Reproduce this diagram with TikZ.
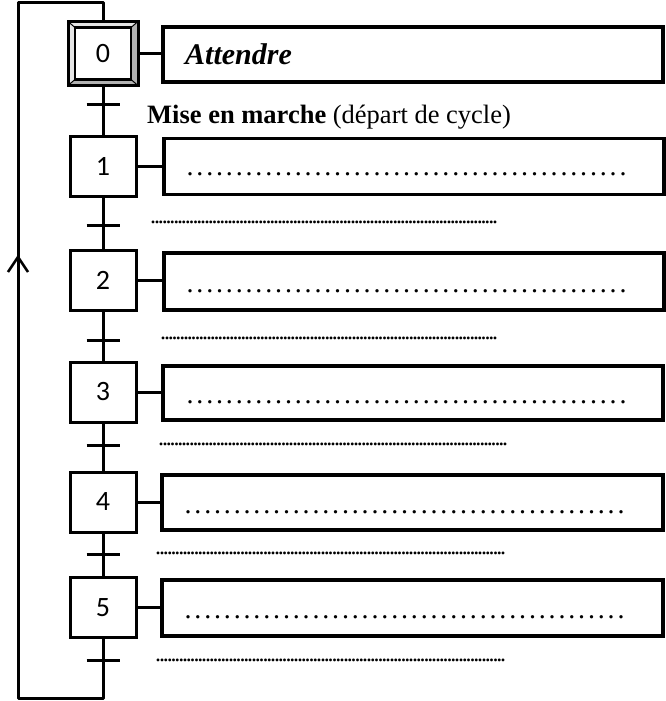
\documentclass[tikz,border=0pt]{standalone}
\usepackage{fontspec}
\setmainfont{Liberation Serif}
\newfontfamily\calib{Carlito}
\newcommand\dotline[2]{\hbox to #1{\xleaders\hbox to #2{\hss.\hss}\hfill}}
\begin{document}
\begin{tikzpicture}[x=1pt,y=-1pt,
  ln/.style={line width=3pt},
  stepbox/.style={draw,line width=3pt,minimum width=66pt,minimum height=60pt,inner sep=0pt,font=\calib\fontsize{28}{28}\selectfont},
  actbox/.style={draw,line width=3.5pt,inner sep=0pt,minimum width=500pt},
  trans/.style={line width=3pt},
  dense/.style={anchor=base west,inner sep=0pt,font=\fontsize{24}{24}\selectfont},
  sparse/.style={anchor=base west,inner sep=0pt,font=\fontsize{28}{28}\selectfont},
  ]
\useasboundingbox (0,0) rectangle (665,701);

% initial step 0 (double beveled frame)
\node[stepbox,draw=none,minimum height=61pt,minimum width=67pt] (s0) at (103,53.5) {};
\fill[gray!20] (s0.north west) -- (s0.north east) -- ([shift={(-7,6)}]s0.north east) -- ([shift={(7,6)}]s0.north west) -- cycle;
\fill[gray!20] (s0.north west) -- (s0.south west) -- ([shift={(7,-6)}]s0.south west) -- ([shift={(7,6)}]s0.north west) -- cycle;
\fill[gray!60] (s0.south west) -- (s0.south east) -- ([shift={(-7,-6)}]s0.south east) -- ([shift={(7,-6)}]s0.south west) -- cycle;
\fill[gray!60] (s0.north east) -- (s0.south east) -- ([shift={(-7,-6)}]s0.south east) -- ([shift={(-7,6)}]s0.north east) -- cycle;
\draw[line width=1pt] (s0.north west) -- ([shift={(7,6)}]s0.north west)
  (s0.north east) -- ([shift={(-7,6)}]s0.north east)
  (s0.south west) -- ([shift={(7,-6)}]s0.south west)
  (s0.south east) -- ([shift={(-7,-6)}]s0.south east);
\draw[line width=3pt] (s0.north west) rectangle (s0.south east);
\draw[line width=2.5pt] ([shift={(7,6)}]s0.north west) rectangle ([shift={(-7,-6)}]s0.south east);
\node[font=\calib\fontsize{28}{28}\selectfont] at (s0) {0};

% steps
\node[stepbox] (s1) at (103,166.5) {1};
\node[stepbox] (s2) at (103,280) {2};
\node[stepbox] (s3) at (103,392) {3};
\node[stepbox] (s4) at (103,502) {4};
\node[stepbox] (s5) at (103,607.5) {5};

% action boxes
\node[actbox,minimum height=55pt] (a0) at (413,54.5) {};
\node[actbox,minimum height=56pt] (a1) at (414,166.5) {};
\node[actbox,minimum height=57pt] (a2) at (414,281.5) {};
\node[actbox,minimum height=54pt] (a3) at (413,393) {};
\node[actbox,minimum height=55pt,minimum width=501pt] (a4) at (412.5,502.5) {};
\node[actbox,minimum height=56pt,minimum width=501pt] (a5) at (412.5,608) {};

% action texts
\node[anchor=base west,inner sep=0pt,font=\fontsize{30}{30}\selectfont\bfseries\itshape] (txt0) at (185,65) {Attendre};
\node[sparse] (d1) at (185,175.8) {\dotline{442.8pt}{9.84pt}};
\node[sparse] (d2) at (185,292.8) {\dotline{442.8pt}{9.84pt}};
\node[sparse] (d3) at (185,403.8) {\dotline{442.8pt}{9.84pt}};
\node[sparse] (d4) at (183,513.8) {\dotline{442.8pt}{9.84pt}};
\node[sparse] (d5) at (183,618.8) {\dotline{442.8pt}{9.84pt}};

% step-action links
\draw[ln] (s0.east) -- (s0.east -| a0.west);
\draw[ln] (s1.east) -- (s1.east -| a1.west);
\draw[ln] (s2.east) -- (s2.east -| a2.west);
\draw[ln] (s3.east) -- (s3.east -| a3.west);
\draw[ln] (s4.east) -- (s4.east -| a4.west);
\draw[ln] (s5.east) -- (s5.east -| a5.west);

% vertical links
\draw[ln] (s0) -- (s1);
\draw[ln] (s1) -- (s2);
\draw[ln] (s2) -- (s3);
\draw[ln] (s3) -- (s4);
\draw[ln] (s4) -- (s5);

% transitions
\coordinate (t0) at (103,104);
\coordinate (t1) at (103,225);
\coordinate (t2) at (103,340);
\coordinate (t3) at (103,445);
\coordinate (t4) at (103,554);
\coordinate (t5) at (103,660);
\foreach \t in {t0,t1,t2,t3,t4,t5}
  \draw[trans] ([xshift=-16.5pt]\t) -- ([xshift=16.5pt]\t);

% receptivities
\node[anchor=base west,inner sep=0pt,font=\fontsize{26.5}{26.5}\selectfont] (r0) at (147,123) {\textbf{Mise en marche} (départ de cycle)};
\node[dense] (r1) at (151.1,223.4) {\dotline{345.8pt}{3.8pt}};
\node[dense] (r2) at (161.1,339.4) {\dotline{335.8pt}{3.8pt}};
\node[dense] (r3) at (159.1,445.4) {\dotline{347.8pt}{3.8pt}};
\node[dense] (r4) at (156.1,554.4) {\dotline{348.8pt}{3.8pt}};
\node[dense] (r5) at (156.1,661.4) {\dotline{348.8pt}{3.8pt}};

% return loop
\coordinate (lb) at (103,698);
\coordinate (lbl) at (18,698);
\coordinate (ltl) at (18,3);
\coordinate (lt) at (103,3);
\draw[ln,line join=round] (s5.south) -- (lb) -- (lbl) -- (ltl) -- (lt) -- (s0.north);
\coordinate (arr) at (18,257);
\draw[line width=2.5pt] ([shift={(-10,15)}]arr) -- (arr) -- ([shift={(10,15)}]arr);
\end{tikzpicture}
\end{document}
